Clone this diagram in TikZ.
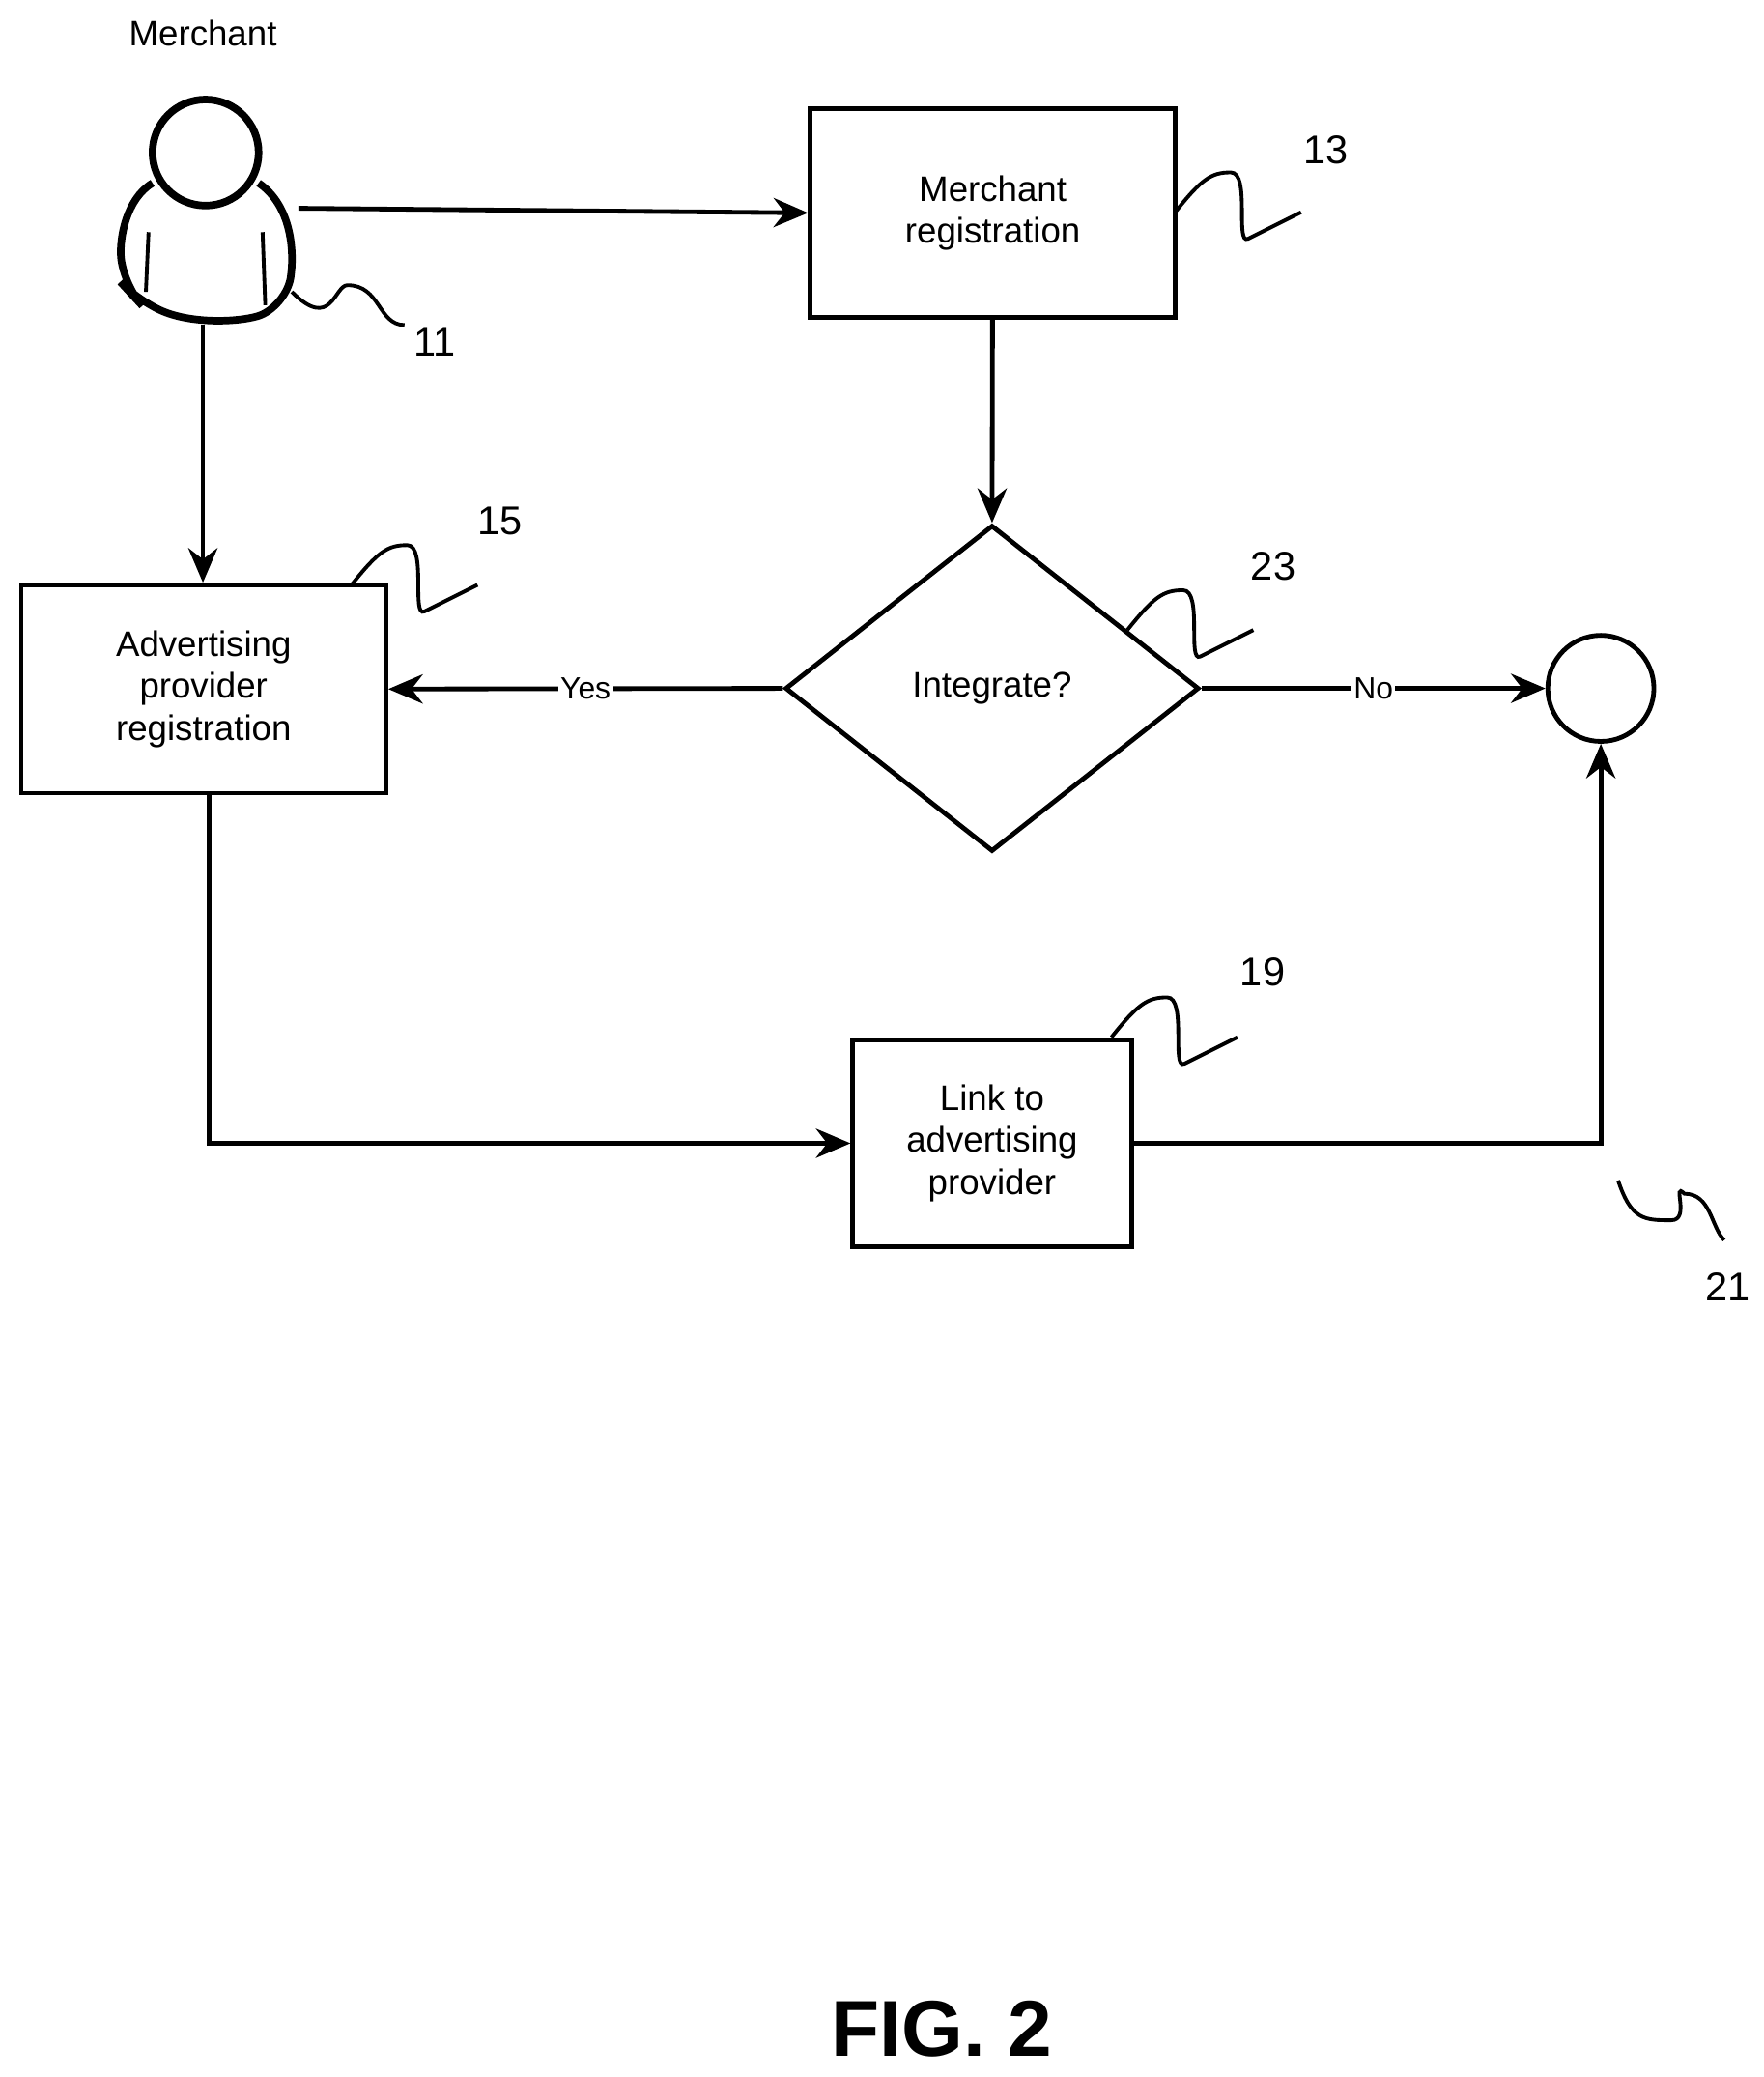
\documentclass[tikz,border=0pt]{standalone}
\usepackage{fontspec}
\setmainfont{Liberation Sans}
\usetikzlibrary{positioning, arrows.meta, shapes.geometric, calc}

\begin{document}
\begin{tikzpicture}[
    line width=1pt,
    font=\fontsize{7.6}{9}\selectfont,
    stage/.style={rectangle, draw=black, align=center, inner sep=0pt},
    flow/.style={-{Stealth[length=2.6mm, width=2.2mm]}},
    squig/.style={line width=0.8pt},
    ref/.style={font=\fontsize{8.6}{10}\selectfont}
]
    \useasboundingbox (0,0) rectangle (13.3,-15.66);

    % merchant figure
    \node[circle, draw, line width=1.6pt, minimum size=0.8cm] (head) at (1.55,-1.15) {};
    \draw[line width=1.6pt, rounded corners=6pt] (1.15,-1.38) .. controls (0.95,-1.5) and (0.9,-1.8) .. (0.93,-2.15)
        -- (1.05,-2.28) .. controls (1.5,-2.45) and (1.85,-2.42) .. (2.16,-2.3)
        .. controls (2.22,-1.9) and (2.2,-1.55) .. (1.95,-1.38);
    \draw[line width=0.8pt] (1.12,-1.75) -- (1.1,-2.2);
    \draw[line width=0.8pt] (1.98,-1.75) -- (2.0,-2.3);
    \node (mlabel) at (1.53,-0.25) {Merchant};

    \node[stage, minimum width=2.75cm, minimum height=1.57cm] (mreg) at (7.485,-1.605) {Merchant\\registration};
    \node[diamond, draw, aspect=1.27, minimum width=3.12cm, minimum height=2.46cm, inner sep=0pt] (integ) at (7.48,-5.19) {Integrate?};
    \node[stage, minimum width=2.75cm, minimum height=1.57cm] (areg) at (1.535,-5.195) {Advertising\\provider\\registration};
    \node[circle, draw, minimum size=0.8cm, inner sep=0pt] (done) at (12.07,-5.19) {};
    \node[stage, minimum width=2.1cm, minimum height=1.56cm] (link) at (7.48,-8.62) {Link to\\advertising\\provider};

    % connectors
    \coordinate (pright) at (2.25,-1.57);
    \coordinate (pbottom) at (1.53,-2.45);
    \draw[flow] (pright) -- (mreg.west);
    \draw[flow] (mreg) -- (integ.north);
    \draw[flow] (pbottom) -- (pbottom |- areg.north);
    \draw[flow] (integ.west) -- node[fill=white, inner sep=0.5pt, font=\fontsize{6.6}{8}\selectfont] {Yes} (areg.east);
    \draw[flow] (integ.east) -- node[fill=white, inner sep=0.5pt, font=\fontsize{6.6}{8}\selectfont] {No} (done.west);
    \draw[flow] ([xshift=0.4mm]areg.south) |- (link.west);
    \draw[flow] (link.east) -| (done.south);

    % reference numerals
    \coordinate (s11) at (2.2,-2.2);
    \coordinate (s13) at (8.86,-1.6);
    \coordinate (s15) at (2.65,-4.41);
    \coordinate (s23) at (8.5,-4.75);
    \coordinate (s19) at (8.38,-7.82);
    \coordinate (s21) at (12.2,-8.9);
    \draw[squig] (s11) .. controls +(0.3,-0.3) and +(-0.1,0) .. ++(0.42,0.05) .. controls +(0.25,0) and +(-0.2,0) .. ++(0.43,-0.3);
    \foreach \s in {s13, s15, s23, s19}
        \draw[squig] (\s) .. controls +(0.2,0.25) and +(-0.15,0) .. ++(0.42,0.3) .. controls +(0.15,0) and +(-0.1,-0.05) .. ++(0.13,-0.5) .. controls +(0.1,0.05) and +(-0.2,-0.1) .. ++(0.4,0.2);
    \draw[squig] (s21) .. controls +(0.1,-0.3) and +(-0.2,0) .. ++(0.4,-0.3) .. controls +(0.15,0) and +(-0.1,0.1) .. ++(0.1,0.2) .. controls +(0.2,0) and +(-0.1,0.1) .. ++(0.3,-0.35);
    \node[ref] (n11) at (3.28,-2.58) {11};
    \node[ref] (n13) at (10.0,-1.13) {13};
    \node[ref] (n15) at (3.77,-3.93) {15};
    \node[ref] (n23) at (9.6,-4.27) {23};
    \node[ref] (n19) at (9.52,-7.33) {19};
    \node[ref] (n21) at (13.03,-9.7) {21};

    \node[font=\rmfamily\bfseries\fontsize{17}{20}\selectfont] (fig) at (7.1,-15.3) {FIG. 2};
\end{tikzpicture}
\end{document}
